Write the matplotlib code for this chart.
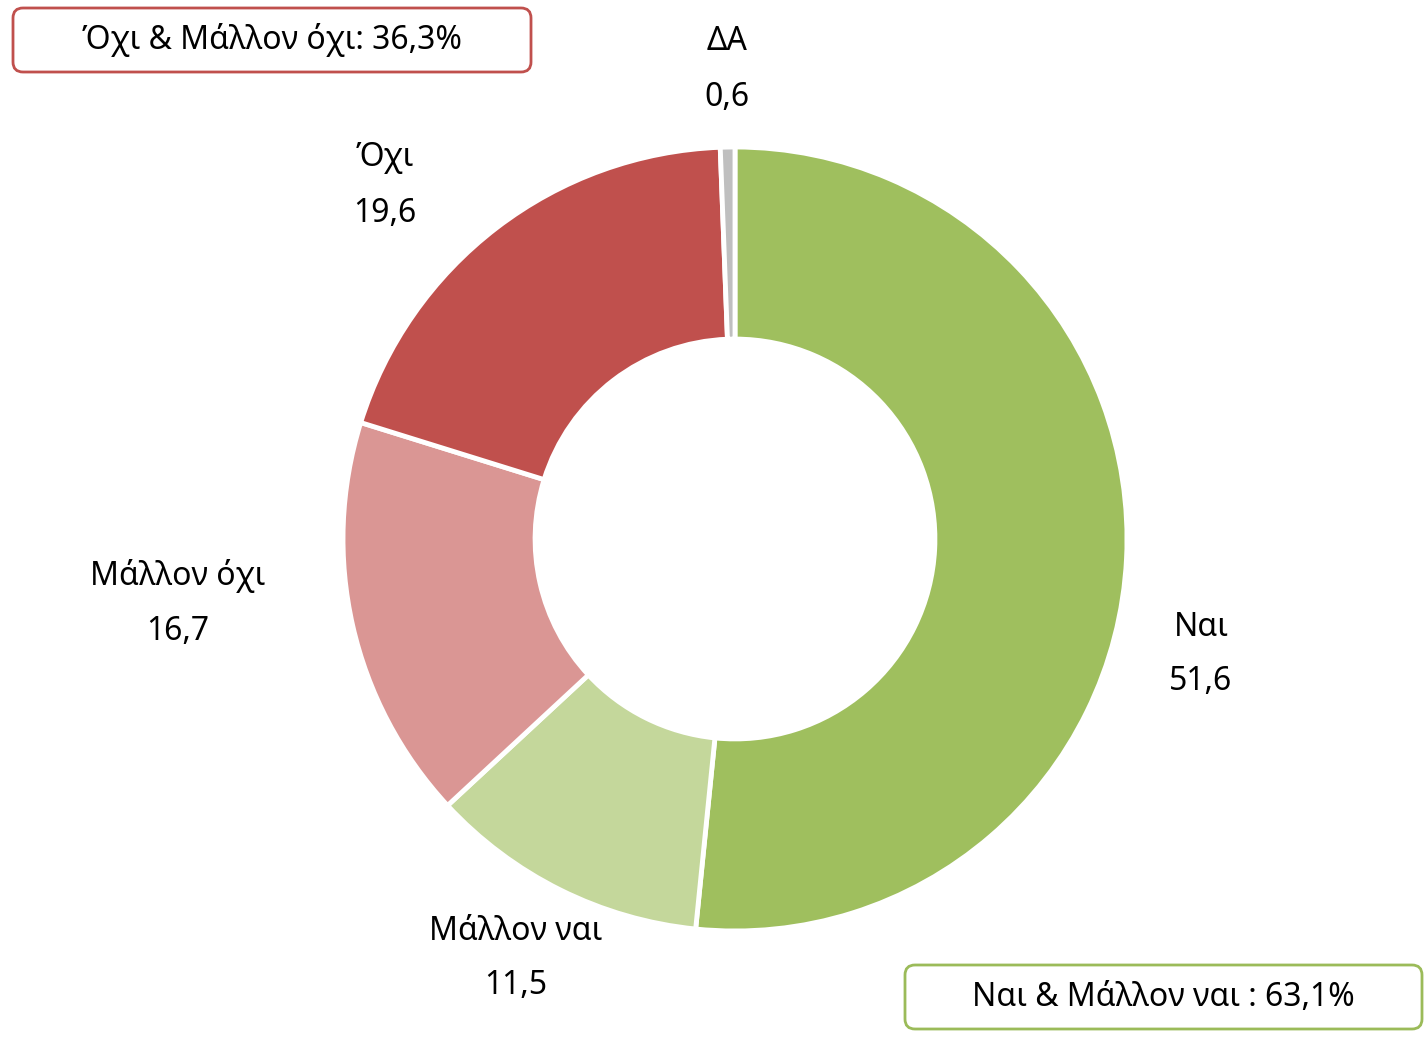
import matplotlib
matplotlib.use("Agg")
import matplotlib.pyplot as plt
from matplotlib.patches import FancyBboxPatch

plt.rcParams["font.family"] = ["Noto Sans", "DejaVu Sans"]

# data
categories = ["Ναι", "Μάλλον ναι", "Μάλλον όχι", "Όχι", "ΔΑ"]
values = [51.6, 11.5, 16.7, 19.6, 0.6]
colors = ["#9FBF5E", "#C4D79B", "#DA9694", "#C0504D", "#BFBFBF"]
summary_no = "Όχι & Μάλλον όχι: 36,3%"
summary_yes = "Ναι & Μάλλον ναι : 63,1%"

W, H = 1428, 1037
fig = plt.figure(figsize=(W / 100, H / 100), dpi=100)
ax = fig.add_axes([0, 0, 1, 1])

cx, cy, r = 735, H - 539, 392
ax.pie(values, colors=colors, startangle=90, counterclock=False,
       center=(cx, cy), radius=r, frame=True,
       wedgeprops=dict(width=r * 0.49, edgecolor="white", linewidth=3.5))
ax.set_xlim(0, W)
ax.set_ylim(0, H)
ax.set_aspect("equal")
ax.axis("off")

# label positions (pixel coords from top)
label_pos = [(1201, 627), (516, 931), (178, 576), (385, 158), (727, 42)]
fs = 23
for cat, val, (x, y) in zip(categories, values, label_pos):
    ax.text(x, H - y, cat, ha="center", va="center", fontsize=fs, color="black")
    ax.text(x, H - y - 55, f"{val:.1f}".replace(".", ","), ha="center",
            va="center", fontsize=fs, color="black")


def box(x0, y0, x1, y1, ec, text):
    p = FancyBboxPatch((x0, H - y1), x1 - x0, y1 - y0,
                       boxstyle="round,pad=0,rounding_size=10",
                       fc="white", ec=ec, lw=2)
    ax.add_patch(p)
    ax.text((x0 + x1) / 2, H - (y0 + y1) / 2, text, ha="center", va="center",
            fontsize=fs, color="black")


box(13, 8, 531, 72, "#C0504D", summary_no)
box(905, 965, 1422, 1029, "#9BBB59", summary_yes)

fig.savefig("out.png", dpi=100)
